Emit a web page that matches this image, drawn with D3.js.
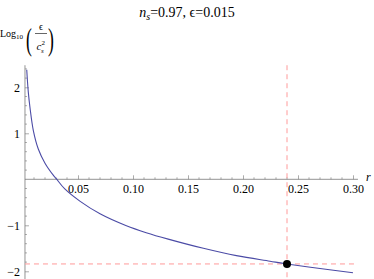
<!DOCTYPE html>
<html>
<head>
<meta charset="utf-8">
<script src="https://cdn.jsdelivr.net/npm/d3@7"></script>
<style>
  body { margin: 0; background: #fff; }
</style>
</head>
<body>
<div id="chart"></div>
<script>
// values
const rValues = [0.0034, 0.0048, 0.0064, 0.0094, 0.0139, 0.020, 0.0275, 0.030, 0.038,
  0.052, 0.070, 0.094, 0.112, 0.132, 0.164, 0.194, 0.2245, 0.24, 0.27, 0.30];
const logValues = [2.38, 1.90, 1.55, 1.06, 0.66, 0.35, 0.09, 0.02, -0.21,
  -0.48, -0.75, -1.01, -1.16, -1.30, -1.50, -1.66, -1.78, -1.84, -1.94, -2.03];
const marker = { r: 0.24, v: -1.84 };
const xTicks = [0.05, 0.10, 0.15, 0.20, 0.25, 0.30];
const xTickLabels = ["0.05", "0.10", "0.15", "0.20", "0.25", "0.30"];
const yTicks = [-2, -1, 1, 2];
const yTickLabels = ["\u22122", "\u22121", "1", "2"];

const serif = "Liberation Serif";
const width = 374, height = 279;
const svg = d3.select("#chart").append("svg")
  .attr("width", width).attr("height", height)
  .attr("font-family", serif);

const x = d3.scaleLinear().domain([0, 0.30]).range([23, 353]);
const y = d3.scaleLinear().domain([0, 1]).range([179.3, 133.3]);

const xMin = 0.0018, xMax = 0.3045;
const yMin = -2.2, yMax = 2.48;

// title
const title = svg.append("text")
  .attr("x", 187).attr("y", 17)
  .attr("text-anchor", "middle")
  .attr("font-family", serif)
  .attr("font-size", 14);
title.append("tspan").attr("font-style", "italic").text("n");
title.append("tspan").attr("font-style", "italic").attr("font-size", 10).attr("dy", 3).text("s");
title.append("tspan").attr("dy", -3).text("=0.97, \u03f5=0.015");

// y axis label: Log10(eps / c_s^2)
const lab = svg.append("g").attr("font-family", serif);
const logText = lab.append("text").attr("x", 0).attr("y", 37).attr("font-size", 10);
logText.append("tspan").text("Log");
logText.append("tspan").attr("font-size", 7).attr("dy", 2).text("10");
lab.append("text").attr("x", 26).attr("y", 50).attr("font-size", 32)
  .attr("transform", "translate(26,50) scale(0.55,1) translate(-26,-50)")
  .text("(");
lab.append("text").attr("x", 48).attr("y", 50).attr("font-size", 32)
  .attr("transform", "translate(48,50) scale(0.55,1) translate(-48,-50)")
  .text(")");
lab.append("text").attr("x", 41).attr("y", 30).attr("text-anchor", "middle")
  .attr("font-size", 10).text("\u03f5");
lab.append("line").attr("x1", 35).attr("x2", 47).attr("y1", 33.5).attr("y2", 33.5)
  .attr("stroke", "#000").attr("stroke-width", 0.6);
const cText = lab.append("text").attr("x", 36.5).attr("y", 50).attr("font-size", 11);
cText.append("tspan").attr("font-style", "italic").text("c");
cText.append("tspan").attr("font-style", "italic").attr("font-size", 7).attr("dy", 3).attr("dx", -0.5).text("s");
lab.append("text").attr("x", 41.5).attr("y", 45).attr("font-size", 7).text("2");

// x axis
const xAxis = d3.axisBottom(x)
  .tickValues(xTicks)
  .tickFormat((d, i) => xTickLabels[i])
  .tickSizeInner(-4).tickSizeOuter(0).tickPadding(5);
const gx = svg.append("g").attr("transform", `translate(0,${y(0)})`).call(xAxis)
  .attr("font-family", serif);
gx.select(".domain").remove();
gx.selectAll(".tick line").attr("stroke", "#888").attr("stroke-width", 0.7);
gx.selectAll(".tick text").attr("font-size", 12).attr("font-family", serif).attr("fill", "#000");
gx.append("g").selectAll("line")
  .data(d3.range(1, 31).map(i => i / 100).filter(v => Math.round(v * 100) % 5 !== 0))
  .join("line")
  .attr("x1", d => x(d)).attr("x2", d => x(d))
  .attr("y1", 0).attr("y2", -2)
  .attr("stroke", "#888").attr("stroke-width", 0.7);
svg.append("line")
  .attr("x1", x(xMin)).attr("x2", x(xMax))
  .attr("y1", y(0)).attr("y2", y(0))
  .attr("stroke", "#777").attr("stroke-width", 0.8);
svg.append("text").attr("x", 366).attr("y", 181)
  .attr("font-family", serif)
  .attr("font-size", 12).attr("font-style", "italic").text("r");

// y axis
const yAxis = d3.axisLeft(y)
  .tickValues(yTicks)
  .tickFormat((d, i) => yTickLabels[i])
  .tickSizeInner(-4).tickSizeOuter(0).tickPadding(5);
const gy = svg.append("g").attr("transform", `translate(${x(xMin)},0)`).call(yAxis)
  .attr("font-family", serif);
gy.select(".domain").remove();
gy.selectAll(".tick line").attr("stroke", "#888").attr("stroke-width", 0.7);
gy.selectAll(".tick text").attr("font-size", 12).attr("font-family", serif).attr("fill", "#000");
gy.append("g").selectAll("line")
  .data(d3.range(-11, 13).map(i => i / 5).filter(v => Math.abs(v - Math.round(v)) > 1e-6))
  .join("line")
  .attr("x1", 0).attr("x2", 2)
  .attr("y1", d => y(d)).attr("y2", d => y(d))
  .attr("stroke", "#888").attr("stroke-width", 0.7);
svg.append("line")
  .attr("x1", x(xMin)).attr("x2", x(xMin))
  .attr("y1", y(yMax)).attr("y2", y(yMin))
  .attr("stroke", "#777").attr("stroke-width", 0.8);

// dashed guide lines
svg.append("line")
  .attr("x1", x(marker.r)).attr("x2", x(marker.r))
  .attr("y1", y(yMax)).attr("y2", height)
  .attr("stroke", "#ff9a9a").attr("stroke-width", 1)
  .attr("stroke-dasharray", "5,4");
svg.append("line")
  .attr("x1", x(xMin)).attr("x2", x(xMax))
  .attr("y1", y(marker.v)).attr("y2", y(marker.v))
  .attr("stroke", "#ff9a9a").attr("stroke-width", 1)
  .attr("stroke-dasharray", "5,4");

// curve
const pts = rValues.map((r, i) => [r, logValues[i]]);
svg.append("path")
  .datum(pts)
  .attr("fill", "none")
  .attr("stroke", "#4b4ba6")
  .attr("stroke-width", 1.1)
  .attr("d", d3.line().x(d => x(d[0])).y(d => y(d[1])).curve(d3.curveCatmullRom.alpha(0.5)));

// marker point
svg.append("circle")
  .attr("cx", x(marker.r)).attr("cy", y(marker.v))
  .attr("r", 4).attr("fill", "#000");
</script>
</body>
</html>
